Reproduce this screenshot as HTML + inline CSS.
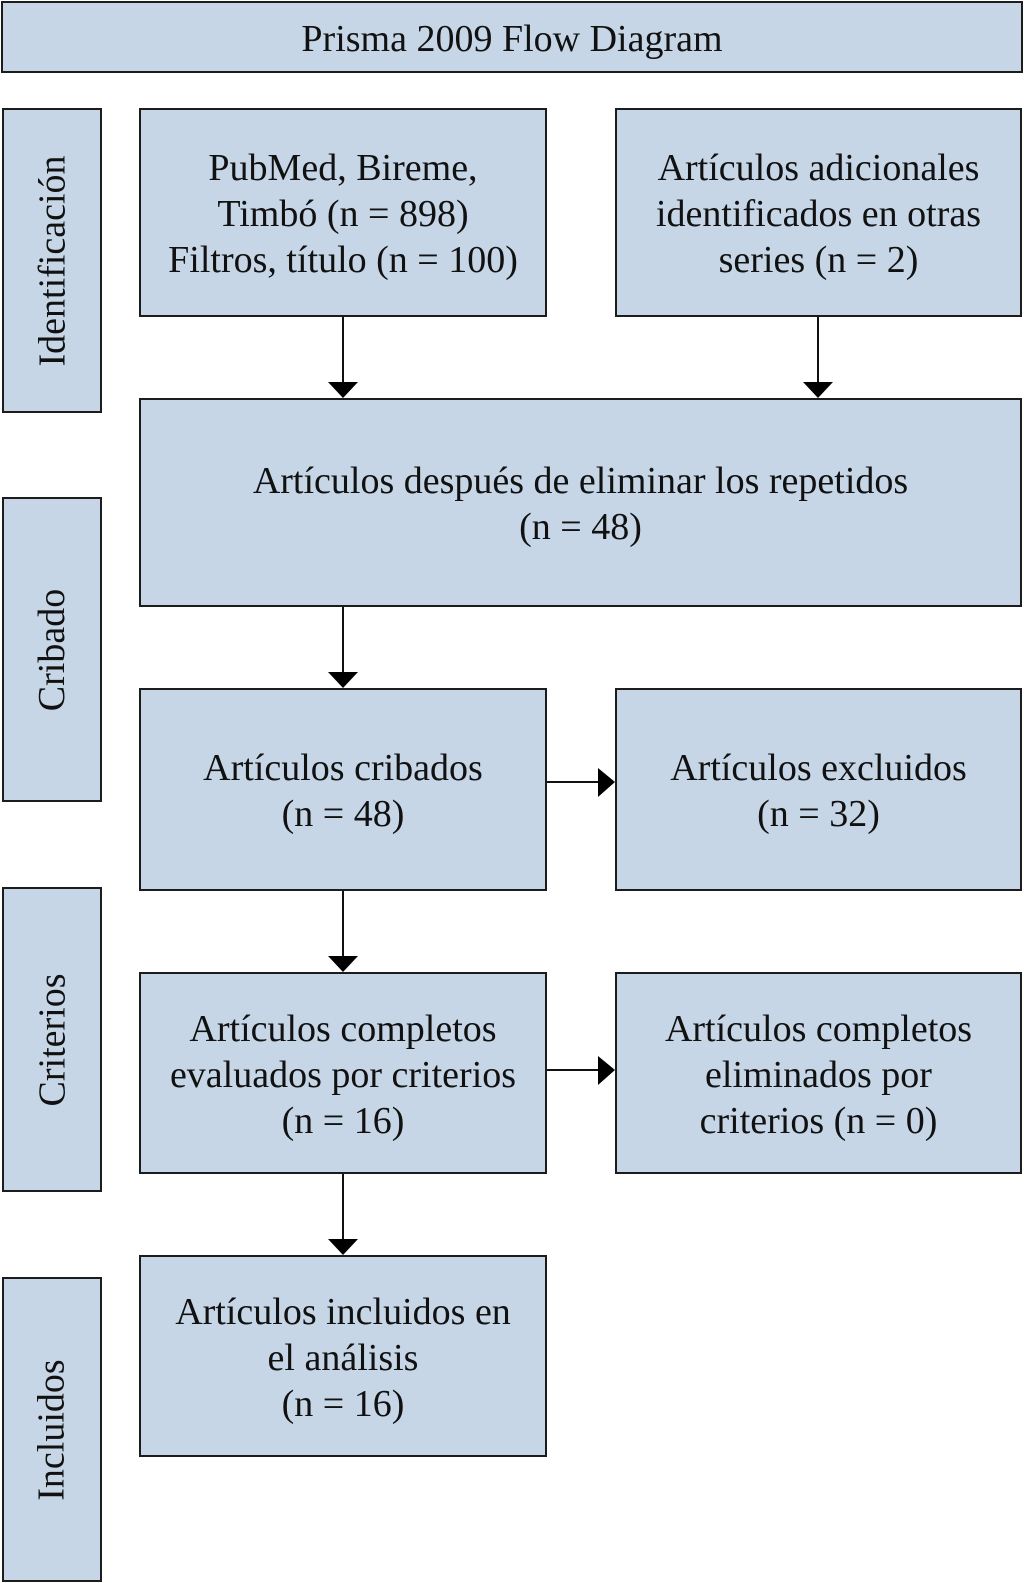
<!DOCTYPE html>
<html>
<head>
<meta charset="utf-8">
<style>
  html, body { margin:0; padding:0; background:#fff; }
  body { width:1024px; height:1583px; position:relative; overflow:hidden;
         font-family:"Liberation Serif","Times New Roman",serif; color:#111; }
  .b { position:absolute; box-sizing:border-box; border:2px solid #1c1c1c; background:#c6d6e6;
       display:flex; align-items:center; justify-content:center; text-align:center;
       font-size:38px; line-height:46px; padding-top:3px; }
  .side { padding-top:0; }
  .side span { display:block; transform:rotate(-90deg); white-space:nowrap; }
  svg { position:absolute; left:0; top:0; }
</style>
</head>
<body>
<div class="b" style="left:1px;top:1px;width:1022px;height:72px;">Prisma 2009 Flow Diagram</div>

<div class="b side" style="left:2px;top:108px;width:100px;height:305px;"><span>Identificación</span></div>
<div class="b side" style="left:2px;top:497px;width:100px;height:305px;"><span>Cribado</span></div>
<div class="b side" style="left:2px;top:887px;width:100px;height:305px;"><span>Criterios</span></div>
<div class="b side" style="left:2px;top:1277px;width:100px;height:305px;"><span>Incluidos</span></div>

<div class="b" style="left:139px;top:108px;width:408px;height:209px;">PubMed, Bireme,<br>Timbó (n = 898)<br>Filtros, título (n = 100)</div>
<div class="b" style="left:615px;top:108px;width:407px;height:209px;">Artículos adicionales<br>identificados en otras<br>series (n = 2)</div>
<div class="b" style="left:139px;top:398px;width:883px;height:209px;">Artículos después de eliminar los repetidos<br>(n = 48)</div>
<div class="b" style="left:139px;top:688px;width:408px;height:203px;">Artículos cribados<br>(n = 48)</div>
<div class="b" style="left:615px;top:688px;width:407px;height:203px;">Artículos excluidos<br>(n = 32)</div>
<div class="b" style="left:139px;top:972px;width:408px;height:202px;">Artículos completos<br>evaluados por criterios<br>(n = 16)</div>
<div class="b" style="left:615px;top:972px;width:407px;height:202px;">Artículos completos<br>eliminados por<br>criterios (n = 0)</div>
<div class="b" style="left:139px;top:1255px;width:408px;height:202px;">Artículos incluidos en<br>el análisis<br>(n = 16)</div>

<svg width="1024" height="1583" viewBox="0 0 1024 1583">
  <g stroke="#111" stroke-width="2" fill="none">
    <line x1="343" y1="317" x2="343" y2="384"/>
    <line x1="818" y1="317" x2="818" y2="384"/>
    <line x1="343" y1="607" x2="343" y2="674"/>
    <line x1="343" y1="891" x2="343" y2="958"/>
    <line x1="343" y1="1174" x2="343" y2="1241"/>
    <line x1="547" y1="782" x2="600" y2="782"/>
    <line x1="547" y1="1070" x2="600" y2="1070"/>
  </g>
  <g fill="#000">
    <polygon points="328,382 358,382 343,398"/>
    <polygon points="803,382 833,382 818,398"/>
    <polygon points="328,672 358,672 343,688"/>
    <polygon points="328,956 358,956 343,972"/>
    <polygon points="328,1239 358,1239 343,1255"/>
    <polygon points="598,768 598,797 615,782"/>
    <polygon points="598,1056 598,1085 615,1070"/>
  </g>
</svg>
</body>
</html>
